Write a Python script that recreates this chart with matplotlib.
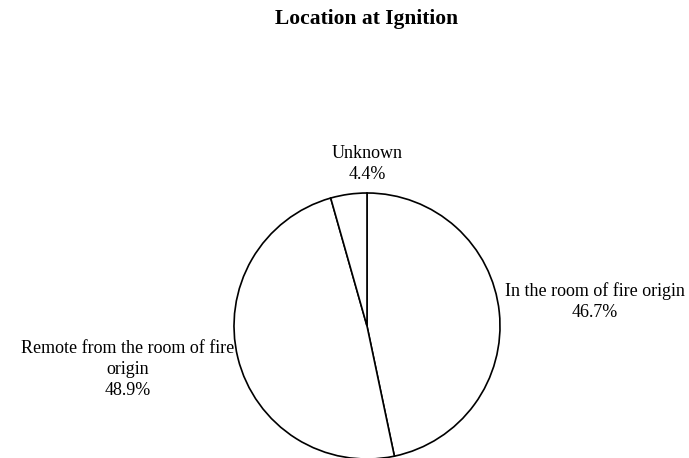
import matplotlib
matplotlib.use("Agg")
import matplotlib.pyplot as plt

# Location at Ignition - share of fires
labels = ['In the room of fire origin', 'Remote from the room of fire\norigin', 'Unknown']
values = [46.7, 48.9, 4.4]

# label block anchors (pie radius units) and alignment
label_pos = [(1.035, 0.182, 'left'), (-1.0, -0.33, 'right'), (0.0, 1.22, 'center')]

plt.rcParams['font.family'] = ['Liberation Serif', 'DejaVu Serif']

fig = plt.figure(figsize=(6.89, 4.58), dpi=100)
ax = fig.add_axes([0, 0, 1, 1])

ax.pie(values, startangle=90, counterclock=False, radius=1.0,
       colors=['white'] * len(values),
       wedgeprops=dict(edgecolor='black', linewidth=1.2))

for lab, val, (x, y, ha) in zip(labels, values, label_pos):
    ax.text(x, y, lab + '\n' + f'{val:.1f}%', ha=ha, va='center',
            multialignment='center', fontsize=13, linespacing=1.3)

# map pie centre to ~(367, 326) px, radius ~133 px
r = 133.0
ax.set_xlim(-367 / r, (689 - 367) / r)
ax.set_ylim(-(458 - 326) / r, 326 / r)
ax.axis('off')

fig.text(367 / 689, 1 - 19 / 458, 'Location at Ignition', ha='center', va='center',
         fontsize=15.5, fontweight='bold')

fig.savefig('out.png', dpi=100, facecolor='white')
